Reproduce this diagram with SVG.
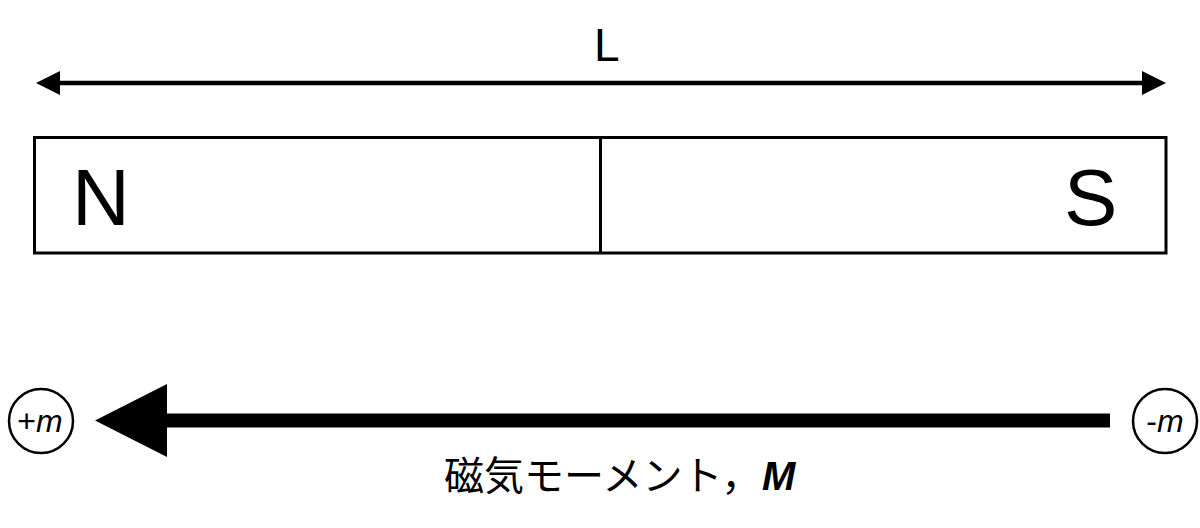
<svg xmlns="http://www.w3.org/2000/svg" width="1200" height="528" viewBox="0 0 1200 528">
<style>
.t{font-family:"Liberation Sans",Arial,sans-serif;fill:#000}
.j{font-family:"Liberation Sans","Noto Sans CJK JP",sans-serif;fill:#000}
.ln{stroke:#000;fill:none}
</style>
<rect width="1200" height="528" fill="#fff"/>
<g id="dimension">
<line class="ln" x1="56" y1="83" x2="1146" y2="83" stroke-width="4.5"/>
<polygon points="36,83 60,71 60,95" fill="#000"/>
<polygon points="1166,83 1142,71 1142,95" fill="#000"/>
<text class="t" x="594" y="61" font-size="46">L</text>
</g>
<g id="magnet">
<rect class="ln" x="34.5" y="137.5" width="1131.5" height="115.5" stroke-width="3"/>
<line class="ln" x1="600.5" y1="137.5" x2="600.5" y2="253" stroke-width="3"/>
<text class="t" x="72" y="225" font-size="80">N</text>
<text class="t" x="1064" y="225" font-size="80">S</text>
</g>
<g id="connectors">
<line class="ln" x1="160" y1="420.5" x2="1110" y2="420.5" stroke-width="14"/>
<polygon points="95,420.5 167,384 167,457" fill="#000"/>
</g>
<g id="plus-m">
<circle class="ln" cx="41" cy="421" r="32" stroke-width="2.5"/>
<text class="t" x="40" y="432" font-size="32" text-anchor="middle">+<tspan font-style="italic">m</tspan></text>
</g>
<g id="minus-m">
<circle class="ln" cx="1165" cy="421" r="32" stroke-width="2.5"/>
<text class="t" x="1165" y="432" font-size="32" text-anchor="middle">-<tspan font-style="italic">m</tspan></text>
</g>
<g id="label">
<text class="j" x="444" y="490" font-size="40">磁気モーメント，<tspan font-weight="bold" font-style="italic" x="762">M</tspan></text>
</g>
</svg>
